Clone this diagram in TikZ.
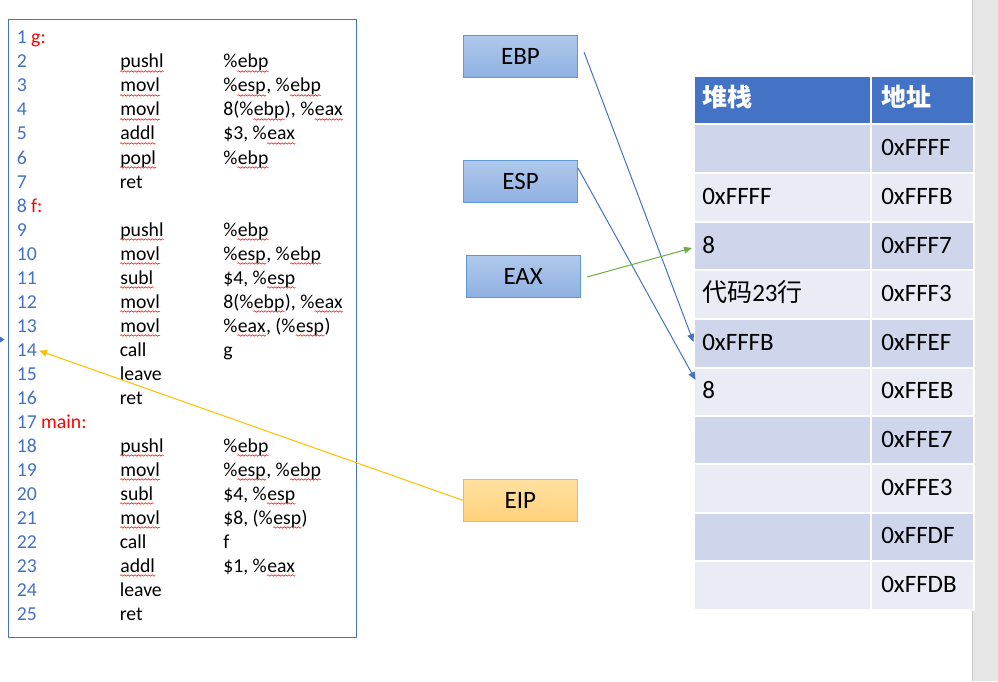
\documentclass[tikz,border=0pt]{standalone}
\usepackage{fontspec}
\setmainfont{Carlito}
\newfontfamily\cjk{Noto Sans CJK SC}
\usetikzlibrary{arrows.meta,calc,decorations.pathmorphing}
\definecolor{numblue}{RGB}{68,114,196}
\definecolor{codered}{RGB}{255,0,0}
\definecolor{hdrblue}{RGB}{68,114,196}
\definecolor{rowdark}{RGB}{207,213,234}
\definecolor{rowlight}{RGB}{233,235,245}
\definecolor{regtop}{RGB}{176,201,236}
\definecolor{regbot}{RGB}{143,177,226}
\definecolor{regborder}{RGB}{91,155,213}
\definecolor{eiptop}{RGB}{255,224,162}
\definecolor{eipbot}{RGB}{255,210,122}
\definecolor{eipborder}{RGB}{255,192,0}
\definecolor{arrblue}{RGB}{68,114,196}
\definecolor{arrgreen}{RGB}{112,173,71}
\definecolor{arrgold}{RGB}{255,192,0}
\definecolor{barfill}{RGB}{230,230,230}
\definecolor{barline}{RGB}{200,200,200}
\newcommand\rw[1]{\tikz[baseline=(wv.base)]{\node[inner sep=0pt, anchor=base west] (wv) at (0,0) {#1};
  \draw[red, line width=0.4pt, decorate, decoration={snake, amplitude=0.55pt, segment length=2.6pt}]
    ([yshift=-2.6pt]wv.base west) -- ([yshift=-2.6pt]wv.base east);}}
\tikzset{
  codetxt/.style={anchor=base west, inner sep=0pt, font=\fontsize{14.8}{17}\selectfont},
  numtxt/.style={codetxt, text=numblue},
  tabtxt/.style={anchor=base west, inner sep=0pt, font=\fontsize{18.75}{22}\selectfont},
  hdrtxt/.style={tabtxt, text=white, font=\fontsize{18.75}{22}\selectfont\cjk\bfseries},
  regbox/.style={draw=regborder, top color=regtop, bottom color=regbot, line width=0.75pt,
    minimum width=85.5pt, minimum height=31.5pt, inner sep=0pt, font=\fontsize{18.75}{22}\selectfont},
  eipbox/.style={regbox, draw=eipborder, top color=eiptop, bottom color=eipbot},
  cellsep/.style={draw=white, line width=1.5pt},
  barrow/.style={draw=arrblue, line width=0.75pt, -{Triangle[length=6pt,width=5pt]}},
  garrow/.style={barrow, draw=arrgreen, fill=arrgreen},
  yarrow/.style={barrow, draw=arrgold, fill=arrgold},
}
\begin{document}
\begin{tikzpicture}[x=0.75pt, y=-0.75pt]
\useasboundingbox (0,0) rectangle (998,681);
\fill[white] (0,0) rectangle (998,681);
% gray side bar
\fill[barfill] (972,0) rectangle (998,681);
\draw[barline, line width=0.75pt] (972.5,0) -- (972.5,681);
% code box
\draw[numblue, line width=0.75pt] (8,20) rectangle (356,637);
\fill[arrblue] (0,336.5) -- (4.5,339.5) -- (0,342.5) -- cycle;
% code lines
\node[numtxt] (n1) at (16.5,44) {1 \textcolor{codered}{g:}};
\node[numtxt] (n2) at (16.5,68) {2};
\node[codetxt] (m2) at (119.5,68) {\rw{pushl}};
\node[codetxt] (o2) at (223,68) {\%\rw{ebp}};
\node[numtxt] (n3) at (16.5,92) {3};
\node[codetxt] (m3) at (119.5,92) {\rw{movl}};
\node[codetxt] (o3) at (223,92) {\%\rw{esp}, \%\rw{ebp}};
\node[numtxt] (n4) at (16.5,116) {4};
\node[codetxt] (m4) at (119.5,116) {\rw{movl}};
\node[codetxt] (o4) at (223,116) {8(\%\rw{ebp}), \%\rw{eax}};
\node[numtxt] (n5) at (16.5,140) {5};
\node[codetxt] (m5) at (119.5,140) {\rw{addl}};
\node[codetxt] (o5) at (223,140) {\$3, \%\rw{eax}};
\node[numtxt] (n6) at (16.5,164) {6};
\node[codetxt] (m6) at (119.5,164) {\rw{popl}};
\node[codetxt] (o6) at (223,164) {\%\rw{ebp}};
\node[numtxt] (n7) at (16.5,188) {7};
\node[codetxt] (m7) at (119.5,188) {ret};
\node[numtxt] (n8) at (16.5,212) {8 \textcolor{codered}{f:}};
\node[numtxt] (n9) at (16.5,236) {9};
\node[codetxt] (m9) at (119.5,236) {\rw{pushl}};
\node[codetxt] (o9) at (223,236) {\%\rw{ebp}};
\node[numtxt] (n10) at (16.5,260) {10};
\node[codetxt] (m10) at (119.5,260) {\rw{movl}};
\node[codetxt] (o10) at (223,260) {\%\rw{esp}, \%\rw{ebp}};
\node[numtxt] (n11) at (16.5,284) {11};
\node[codetxt] (m11) at (119.5,284) {\rw{subl}};
\node[codetxt] (o11) at (223,284) {\$4, \%\rw{esp}};
\node[numtxt] (n12) at (16.5,308) {12};
\node[codetxt] (m12) at (119.5,308) {\rw{movl}};
\node[codetxt] (o12) at (223,308) {8(\%\rw{ebp}), \%\rw{eax}};
\node[numtxt] (n13) at (16.5,332) {13};
\node[codetxt] (m13) at (119.5,332) {\rw{movl}};
\node[codetxt] (o13) at (223,332) {\%\rw{eax}, (\%\rw{esp})};
\node[numtxt] (n14) at (16.5,356) {14};
\node[codetxt] (m14) at (119.5,356) {call};
\node[codetxt] (o14) at (223,356) {g};
\node[numtxt] (n15) at (16.5,380) {15};
\node[codetxt] (m15) at (119.5,380) {leave};
\node[numtxt] (n16) at (16.5,404) {16};
\node[codetxt] (m16) at (119.5,404) {ret};
\node[numtxt] (n17) at (16.5,428) {17 \textcolor{codered}{main:}};
\node[numtxt] (n18) at (16.5,452) {18};
\node[codetxt] (m18) at (119.5,452) {\rw{pushl}};
\node[codetxt] (o18) at (223,452) {\%\rw{ebp}};
\node[numtxt] (n19) at (16.5,476) {19};
\node[codetxt] (m19) at (119.5,476) {\rw{movl}};
\node[codetxt] (o19) at (223,476) {\%\rw{esp}, \%\rw{ebp}};
\node[numtxt] (n20) at (16.5,500) {20};
\node[codetxt] (m20) at (119.5,500) {\rw{subl}};
\node[codetxt] (o20) at (223,500) {\$4, \%\rw{esp}};
\node[numtxt] (n21) at (16.5,524) {21};
\node[codetxt] (m21) at (119.5,524) {\rw{movl}};
\node[codetxt] (o21) at (223,524) {\$8, (\%\rw{esp})};
\node[numtxt] (n22) at (16.5,548) {22};
\node[codetxt] (m22) at (119.5,548) {call};
\node[codetxt] (o22) at (223,548) {f};
\node[numtxt] (n23) at (16.5,572) {23};
\node[codetxt] (m23) at (119.5,572) {\rw{addl}};
\node[codetxt] (o23) at (223,572) {\$1, \%\rw{eax}};
\node[numtxt] (n24) at (16.5,596) {24};
\node[codetxt] (m24) at (119.5,596) {leave};
\node[numtxt] (n25) at (16.5,620) {25};
\node[codetxt] (m25) at (119.5,620) {ret};
% register boxes
\node[regbox] (ebp) at (520.5,56.2) {EBP};
\node[regbox] (esp) at (520.5,181.3) {ESP};
\node[regbox] (eax) at (523.2,276.2) {EAX};
\node[eipbox] (eip) at (520.3,500.3) {EIP};
% table cells
\fill[hdrblue, cellsep] (693.5,76.5) rectangle (871.3,124.5);
\fill[hdrblue, cellsep] (871.3,76.5) rectangle (974,124.5);
\foreach \t/\b/\c in {124.5/173/rowdark, 173/222/rowlight, 222/270/rowdark, 270/319/rowlight,
  319/367.5/rowdark, 367.5/416/rowlight, 416/464/rowdark, 464/512.5/rowlight,
  512.5/561/rowdark, 561/609.5/rowlight}{
  \fill[\c, cellsep] (693.5,\t) rectangle (871.3,\b);
  \fill[\c, cellsep] (871.3,\t) rectangle (974,\b);
}
% table text
\node[hdrtxt] (hs) at (702,107) {堆栈};
\node[hdrtxt] (ha) at (881,107) {地址};
\node[tabtxt] (a1) at (881,155.5) {0xFFFF};
\node[tabtxt] (s2) at (702,204) {0xFFFF};
\node[tabtxt] (a2) at (881,204) {0xFFFB};
\node[tabtxt] (s3) at (702,253) {8};
\node[tabtxt] (a3) at (881,253) {0xFFF7};
\node[tabtxt] (s4) at (702,301) {{\cjk 代码}23{\cjk 行}};
\node[tabtxt] (a4) at (881,301) {0xFFF3};
\node[tabtxt] (s5) at (702,350) {0xFFFB};
\node[tabtxt] (a5) at (881,350) {0xFFEF};
\node[tabtxt] (s6) at (702,398.5) {8};
\node[tabtxt] (a6) at (881,398.5) {0xFFEB};
\node[tabtxt] (a7) at (881,447) {0xFFE7};
\node[tabtxt] (a8) at (881,495) {0xFFE3};
\node[tabtxt] (a9) at (881,543.5) {0xFFDF};
\node[tabtxt] (a10) at (881,592) {0xFFDB};
% connector endpoints
\coordinate (ebpS) at (584,52);
\coordinate (espS) at (578,168);
\coordinate (eaxS) at (587,277);
\coordinate (r5L) at (693.5,342);
\coordinate (r6L) at (695.5,380);
\coordinate (r3L) at (692,248);
% connectors
\draw[barrow] (ebpS) -- (r5L);
\draw[barrow] (espS) -- (r6L);
\draw[garrow] (eaxS) -- (r3L);
\draw[yarrow] (eip.west) -- ($(n14.east)+(2,1)$);
\end{tikzpicture}
\end{document}
